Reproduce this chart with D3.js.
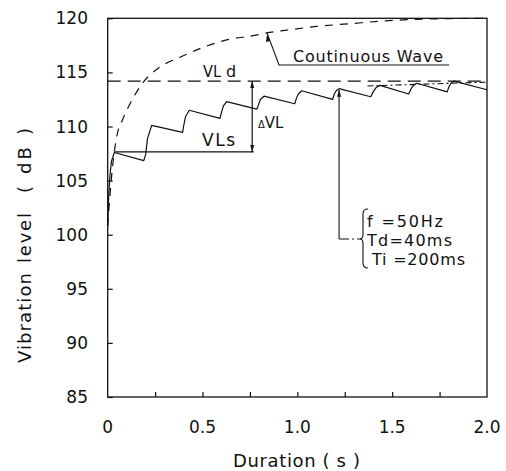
<!DOCTYPE html>
<html><head><meta charset="utf-8">
<script src="https://cdn.jsdelivr.net/npm/d3@7"></script>
<style>body{margin:0;background:#fff}svg{display:block}text{font-family:"DejaVu Sans",sans-serif;fill:#111}</style>
</head><body>
<svg id="c" width="506" height="471"></svg>
<script>
// Data
const pulsedT  = [0.0, 0.005, 0.012, 0.02, 0.035, 0.19, 0.2, 0.21, 0.232, 0.395, 0.40, 0.41, 0.43, 0.592, 0.60, 0.61, 0.627, 0.786, 0.795, 0.805, 0.824, 0.986, 0.995, 1.005, 1.023, 1.186, 1.195, 1.205, 1.22, 1.387, 1.40, 1.415, 1.436, 1.587, 1.60, 1.612, 1.63, 1.79, 1.80, 1.81, 1.826, 2.0];
const pulsedDB = [100.8, 103.5, 105.5, 106.8, 107.6, 106.85, 107.4, 108.9, 110.1, 109.45, 110.0, 110.9, 111.5, 110.75, 111.3, 111.9, 112.3, 111.6, 112.0, 112.5, 112.8, 112.1, 112.6, 113.0, 113.3, 112.5, 113.0, 113.3, 113.5, 112.75, 113.2, 113.6, 113.8, 113.0, 113.5, 113.8, 114.0, 113.2, 113.7, 114.0, 114.2, 113.4];
const contT  = [0.0, 0.01, 0.025, 0.047, 0.08, 0.109, 0.188, 0.276, 0.381, 0.487, 0.627, 0.768, 0.855, 0.944, 1.10, 1.277, 1.45, 1.63, 1.80, 2.0];
const contDB = [100.8, 103.2, 106.2, 109.0, 110.7, 111.8, 114.1, 115.5, 116.4, 117.2, 118.0, 118.4, 118.7, 118.9, 119.25, 119.5, 119.75, 119.9, 119.97, 120.0];
const VLd = 114.2, VLs = 107.65;
const xTicks = [0, 0.5, 1.0, 1.5, 2.0];
const xTickLabels = ["0", "0.5", "1.0", "1.5", "2.0"];
const xMinorTicks = [0.25, 0.5, 0.75, 1.0, 1.25, 1.5, 1.75];
const yTicks = [85, 90, 95, 100, 105, 110, 115, 120];
const noteLines = ["f =50Hz", "Td=40ms", "Ti =200ms"];

const svg = d3.select("#c");
const L = 107.7, R = 487, T = 18.3, B = 397;
const x = d3.scaleLinear().domain([0, 2]).range([L, R]);
const y = d3.scaleLinear().domain([85, 120]).range([B, T]);
const ink = "#111";

// frame
svg.append("rect").attr("x", L).attr("y", T).attr("width", R - L).attr("height", B - T)
  .attr("fill", "none").attr("stroke", ink).attr("stroke-width", 1.3);

// axes
const xAx = d3.axisBottom(x).tickValues(xMinorTicks).tickSize(-5).tickFormat("");
const gx = svg.append("g").attr("transform", `translate(0,${B})`).call(xAx);
gx.select(".domain").remove();
gx.selectAll("line").attr("stroke", ink).attr("stroke-width", 1.2);
const yAx = d3.axisLeft(y).tickValues(yTicks).tickSize(-5).tickFormat("");
const gy = svg.append("g").attr("transform", `translate(${L},0)`).call(yAx);
gy.select(".domain").remove();
gy.selectAll("line").attr("stroke", ink).attr("stroke-width", 1.2);

// tick labels
svg.append("g").selectAll("text").data(xTicks).join("text")
  .attr("x", (d) => x(d)).attr("y", 433).attr("text-anchor", "middle")
  .attr("font-size", 17).text((d, i) => xTickLabels[i]);
svg.append("g").selectAll("text").data(yTicks).join("text")
  .attr("x", 88).attr("y", (d) => y(d) + 6).attr("text-anchor", "end")
  .attr("font-size", 17).text((d) => d);

// axis titles
svg.append("text").attr("x", 233).attr("y", 467)
  .attr("font-size", 18).attr("xml:space", "preserve")
  .attr("textLength", 127).attr("lengthAdjust", "spacing").text("Duration ( s )");
const yTitleParts = [["Vibration", 363, 90], ["level", 263, 50], ["( dB )", 193, 65]];
svg.append("g").selectAll("text").data(yTitleParts).join("text")
  .attr("transform", (d) => `translate(31,${d[1]}) rotate(-90)`)
  .attr("font-size", 18).attr("xml:space", "preserve")
  .attr("textLength", (d) => d[2]).attr("lengthAdjust", "spacing").text((d) => d[0]);

const line = d3.line().x((d) => x(d[0])).y((d) => y(d[1]));

// continuous wave curve
svg.append("path").datum(contT.map((t, i) => [t, contDB[i]]))
  .attr("d", line.curve(d3.curveMonotoneX)).attr("fill", "none").attr("stroke", ink)
  .attr("stroke-width", 1.2).attr("stroke-dasharray", "8,7");

// pulsed curve
svg.append("path").datum(pulsedT.map((t, i) => [t, pulsedDB[i]]))
  .attr("d", d3.line().x((d) => x(d[0])).y((d) => y(d[1]))).attr("fill", "none").attr("stroke", ink)
  .attr("stroke-width", 1.2).attr("stroke-linejoin", "round");

// VLd dashed line
svg.append("line").attr("x1", x(0)).attr("x2", x(2)).attr("y1", y(VLd)).attr("y2", y(VLd))
  .attr("stroke", ink).attr("stroke-width", 1.2).attr("stroke-dasharray", "13,7");
// envelope dash-dot near end
svg.append("line").attr("x1", x(1.37)).attr("x2", x(2.0)).attr("y1", y(113.75)).attr("y2", y(114.1))
  .attr("stroke", ink).attr("stroke-width", 1.1).attr("stroke-dasharray", "6,3,2,3");

// VLs solid line
svg.append("line").attr("x1", x(0.035)).attr("x2", x(0.77)).attr("y1", y(VLs)).attr("y2", y(VLs))
  .attr("stroke", ink).attr("stroke-width", 1.2);

// delta VL arrow
const ax = x(0.762);
svg.append("line").attr("x1", ax).attr("x2", ax).attr("y1", y(VLs)).attr("y2", y(VLd))
  .attr("stroke", ink).attr("stroke-width", 1.2);
function arrowHead(px, py, dir) { // dir: 1 = pointing down, -1 = pointing up
  svg.append("path").attr("d", `M${px},${py} L${px - 2},${py - dir * 7} L${px + 2},${py - dir * 7} Z`).attr("fill", ink);
}
arrowHead(ax, y(VLd), -1);
arrowHead(ax, y(VLs), 1);

// labels
const vld = svg.append("text").attr("y", 77).attr("font-size", 16);
vld.append("tspan").attr("x", 203).attr("textLength", 18).attr("lengthAdjust", "spacingAndGlyphs").text("VL");
vld.append("tspan").attr("x", 226).text("d");
svg.append("text").attr("x", 202).attr("y", 146).attr("font-size", 17)
  .attr("textLength", 33).attr("lengthAdjust", "spacing").text("VLs");
const dv = svg.append("text").attr("x", 258).attr("y", 128).attr("font-size", 15);
dv.append("tspan").attr("font-size", 10).text("Δ");
dv.append("tspan").text("VL");

// Continuous wave label and leader
svg.append("text").attr("x", 293).attr("y", 62).attr("font-size", 16)
  .attr("textLength", 150).attr("lengthAdjust", "spacing").text("Coutinuous Wave");
svg.append("path").attr("d", `M${x(1.8)},65 L279,65 L${x(0.84)},${y(118.65)}`)
  .attr("fill", "none").attr("stroke", ink).attr("stroke-width", 1.1);
svg.append("path").attr("d", `M${x(0.84)},${y(118.65) + 1} L${x(0.84) - 1},${y(118.65) + 9} L${x(0.84) + 3},${y(118.65) + 8} Z`).attr("fill", ink);

// note leader
const nx = x(1.22);
svg.append("line").attr("x1", nx).attr("x2", nx).attr("y1", y(113.4)).attr("y2", 239)
  .attr("stroke", ink).attr("stroke-width", 1.1);
svg.append("path").attr("d", `M${nx},${y(113.4)} L${nx - 2},${y(113.4) + 7} L${nx + 2},${y(113.4) + 7} Z`).attr("fill", ink);
svg.append("line").attr("x1", nx).attr("x2", 361).attr("y1", 239).attr("y2", 239)
  .attr("stroke", ink).attr("stroke-width", 1.1).attr("stroke-dasharray", "10,3,2,3");
// brace
svg.append("path").attr("d", "M368,209 Q363,209 363,214 L363,234 Q363,239 360,239 Q363,239 363,244 L363,263 Q363,268 368,268")
  .attr("fill", "none").attr("stroke", ink).attr("stroke-width", 1.1);
const noteX = [367, 367, 372], noteW = [76, 85, 93];
svg.append("g").selectAll("text").data(noteLines).join("text")
  .attr("x", (d, i) => noteX[i]).attr("y", (d, i) => 227 + i * 19).attr("font-size", 16)
  .attr("xml:space", "preserve").attr("textLength", (d, i) => noteW[i]).attr("lengthAdjust", "spacing")
  .text((d) => d);
</script>
</body></html>
